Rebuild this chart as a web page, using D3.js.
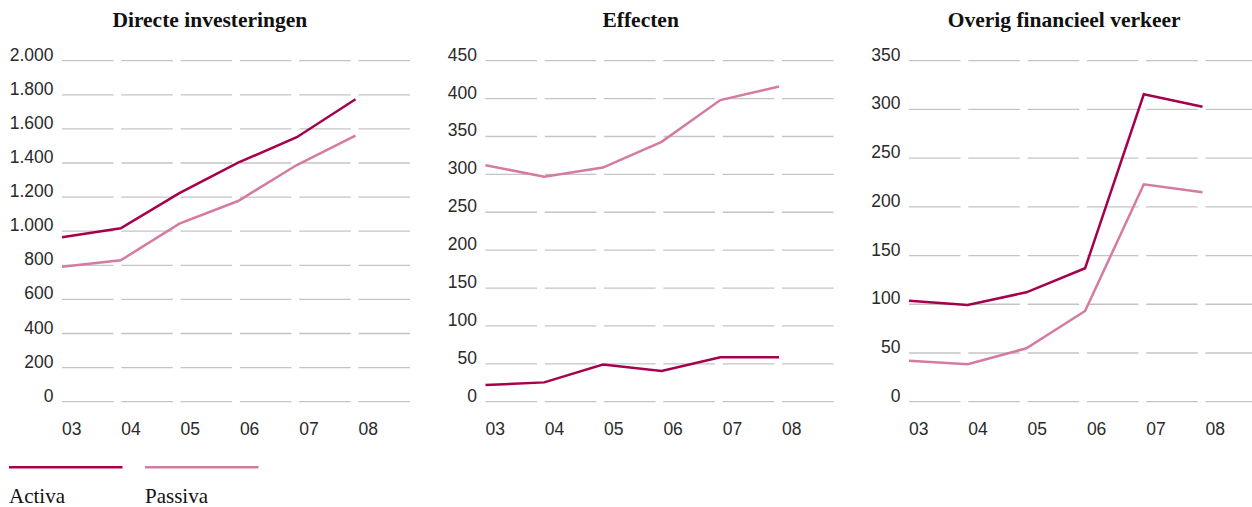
<!DOCTYPE html>
<html>
<head>
<meta charset="utf-8">
<script src="https://cdn.jsdelivr.net/npm/d3@7/dist/d3.min.js"></script>
<style>
  html, body { margin: 0; padding: 0; background: #fff; }
  svg { display: block; }
</style>
</head>
<body>
<svg id="chart" width="1252" height="507"></svg>
<script>
// ---- data ----
const years = ["03", "04", "05", "06", "07", "08"];

const titles = ["Directe investeringen", "Effecten", "Overig financieel verkeer"];

const directActiva  = [964, 1017, 1223, 1402, 1551, 1774];
const directPassiva = [792, 829, 1044, 1177, 1388, 1560];
const directTicks   = [0, 200, 400, 600, 800, 1000, 1200, 1400, 1600, 1800, 2000];

const effActiva  = [22, 25.5, 49, 40.5, 58.5, 58.5];
const effPassiva = [312, 297, 309, 343, 398, 416];
const effTicks   = [0, 50, 100, 150, 200, 250, 300, 350, 400, 450];

const overigActiva  = [103.7, 99.3, 112.3, 137, 315.5, 302.8];
const overigPassiva = [42.1, 38.4, 54.8, 93.1, 223.1, 214.9];
const overigTicks   = [0, 50, 100, 150, 200, 250, 300, 350];

const seriesNames = ["Activa", "Passiva"];

// ---- styles ----
const colActiva = "#a5004c";
const colPassiva = "#d57ba2";
const gridCol = "#c4c4c4";
const sansFont = "'Liberation Sans', Arial, Helvetica, sans-serif";
const serifFont = "'Liberation Serif', 'Times New Roman', serif";

const fmt = d3.formatLocale({decimal: ",", thousands: ".", grouping: [3], currency: ["€", ""]}).format(",d");

const panels = [
  {title: titles[0], activa: directActiva, passiva: directPassiva, ticks: directTicks},
  {title: titles[1], activa: effActiva, passiva: effPassiva, ticks: effTicks},
  {title: titles[2], activa: overigActiva, passiva: overigPassiva, ticks: overigTicks}
];

const svg = d3.select("#chart");

const panelX0 = 62;       // grid start of first panel
const panelStep = 423.5;  // distance between panels
const bandW = 59.3;       // per-year band
const segW = 51.5;        // grid segment length
const yTop = 60.7, yBottom = 401.7;

panels.forEach((p, i) => {
  const gx = panelX0 + i * panelStep;
  const g = svg.append("g");

  const xBand = d3.scaleBand().domain(years).range([gx, gx + bandW * years.length]).padding(0).align(0);
  const xPoint = d3.scalePoint().domain(years).range([gx, gx + 293.5]);
  const y = d3.scaleLinear().domain([0, d3.max(p.ticks)]).range([yBottom, yTop]);

  // grid segments
  const grid = g.append("g");
  p.ticks.forEach(t => {
    grid.selectAll(null).data(years).enter().append("line")
      .attr("x1", d => xBand(d))
      .attr("x2", d => Math.min(xBand(d) + segW, 1252))
      .attr("y1", y(t)).attr("y2", y(t))
      .attr("stroke", gridCol).attr("stroke-width", 1.3);
  });

  // y labels
  const yl = g.append("g");
  yl.selectAll("text").data(p.ticks).enter().append("text")
    .attr("x", gx - 8.5)
    .attr("y", d => y(d))
    .attr("text-anchor", "end")
    .attr("font-family", sansFont)
    .attr("font-size", 17.5)
    .attr("fill", "#2a2a2a")
    .text(d => fmt(d));

  // x labels
  g.append("g").selectAll("text").data(years).enter().append("text")
    .attr("x", d => xBand(d))
    .attr("y", 435)
    .attr("font-family", sansFont)
    .attr("font-size", 17.5)
    .attr("fill", "#2a2a2a")
    .text(d => d);

  // lines
  const line = d3.line().x((d, j) => xPoint(years[j])).y(d => y(d));
  g.append("path").datum(p.passiva).attr("d", line)
    .attr("fill", "none").attr("stroke", colPassiva).attr("stroke-width", 2.5).attr("stroke-linejoin", "miter");
  g.append("path").datum(p.activa).attr("d", line)
    .attr("fill", "none").attr("stroke", colActiva).attr("stroke-width", 2.5).attr("stroke-linejoin", "miter");

  // title centered over labels + grid
  const bb = yl.node().getBBox();
  const left = bb.x;
  const right = gx + bandW * (years.length - 1) + segW;
  g.append("text")
    .attr("x", (left + right) / 2)
    .attr("y", 26.7)
    .attr("text-anchor", "middle")
    .attr("font-family", serifFont)
    .attr("font-weight", "bold")
    .attr("font-size", 21.5)
    .attr("fill", "#111")
    .text(p.title);
});

// legend
const legend = svg.append("g");
const legendX = [9, 145];
const legendCols = [colActiva, colPassiva];
seriesNames.forEach((name, i) => {
  legend.append("line")
    .attr("x1", legendX[i]).attr("x2", legendX[i] + 113.5)
    .attr("y1", 467.3).attr("y2", 467.3)
    .attr("stroke", legendCols[i]).attr("stroke-width", 2.5);
  legend.append("text")
    .attr("x", legendX[i]).attr("y", 502.7)
    .attr("font-family", serifFont)
    .attr("font-size", 21)
    .attr("fill", "#111")
    .text(name);
});
</script>
</body>
</html>
